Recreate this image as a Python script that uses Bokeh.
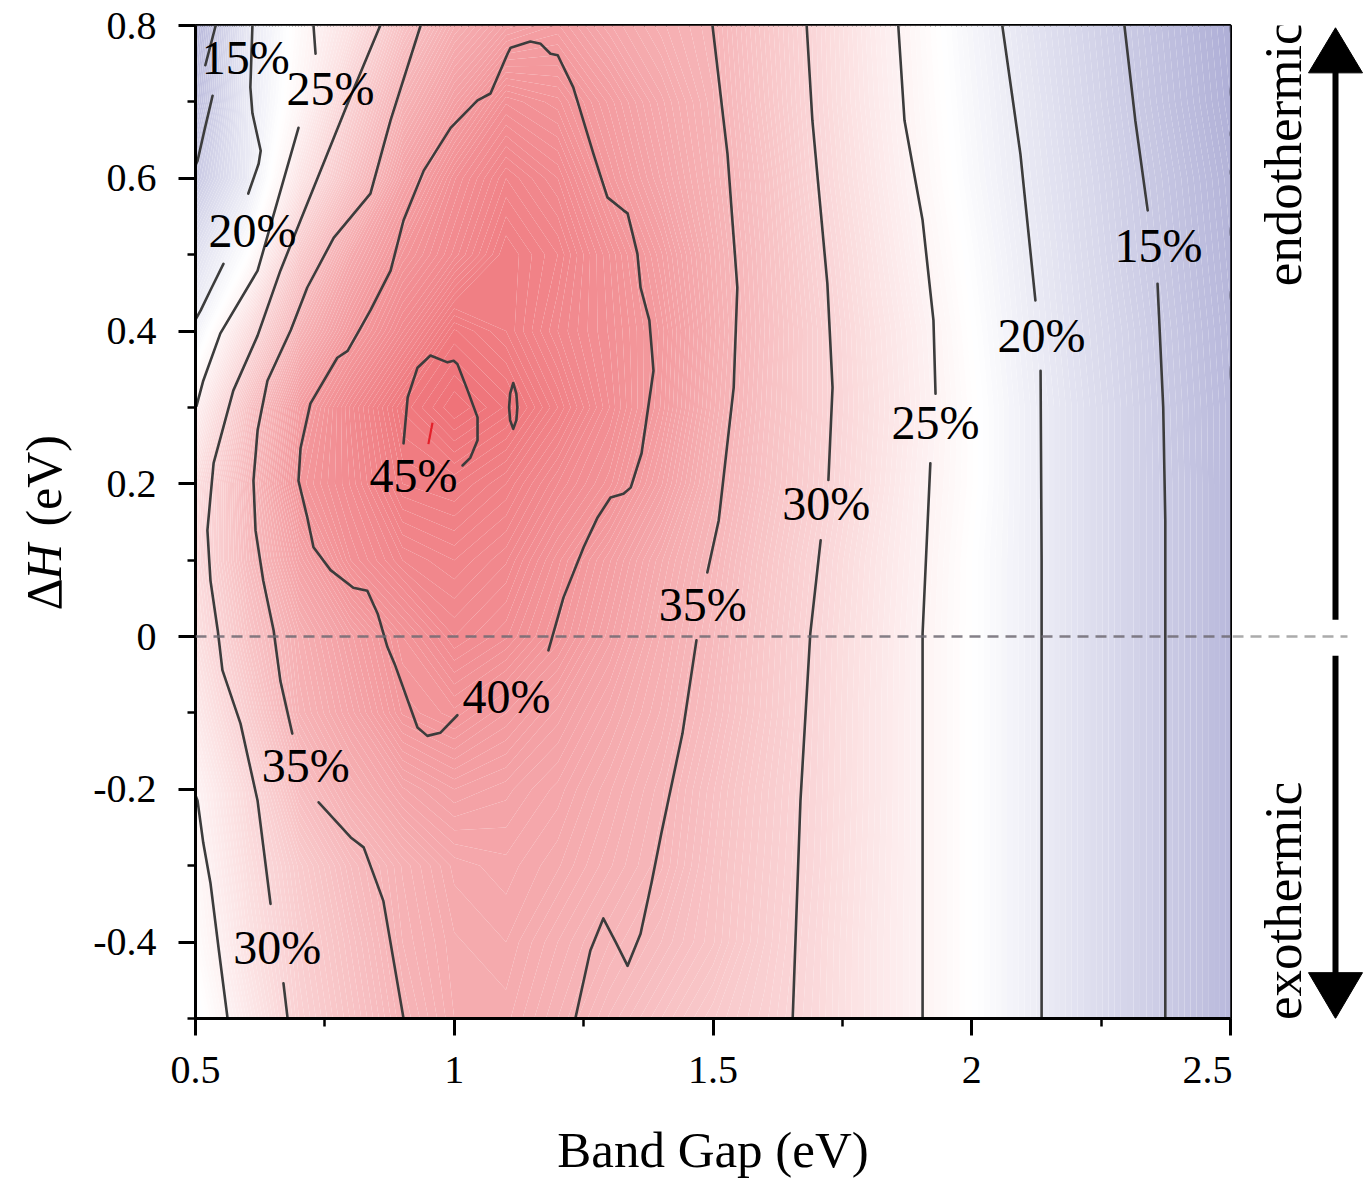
import numpy as np
from bokeh.plotting import figure
from bokeh.layouts import row, column
from bokeh.models import FixedTicker, Span, ColumnDataSource
from bokeh.core.properties import value
from bokeh.embed import file_html
from bokeh.resources import INLINE

# ---------------- data ----------------
BAND_GAP = [0.5, 0.6, 0.7, 0.8, 0.9, 1.0, 1.1, 1.2, 1.3, 1.4, 1.5,
            1.6, 1.7, 1.8, 1.9, 2.0, 2.1, 2.2, 2.3, 2.4, 2.5]
DELTA_H = [-0.5, -0.4, -0.3, -0.2, -0.1, 0.0, 0.1, 0.2, 0.3, 0.4, 0.5, 0.6, 0.7, 0.8]

# efficiency (%) on the grid, one row per DELTA_H value (bottom to top)
EFF_M05 = [22.3, 26.6, 30.5, 32.8, 35.0, 36.5, 36.6, 35.5, 34.2, 33.0, 31.8, 30.6, 29.1, 27.1, 25.1, 23.0, 20.8, 18.6, 16.5, 14.5, 12.3]
EFF_M04 = [23.5, 27.7, 31.0, 33.3, 35.5, 36.7, 37.0, 36.0, 35.0, 34.0, 32.8, 31.0, 29.2, 27.1, 25.1, 23.0, 20.8, 18.6, 16.5, 14.5, 12.3]
EFF_M03 = [24.2, 28.4, 31.6, 34.0, 35.8, 37.1, 37.4, 36.8, 35.8, 34.8, 33.0, 31.2, 29.4, 27.2, 25.1, 23.0, 20.8, 18.6, 16.5, 14.5, 12.3]
EFF_M02 = [24.9, 29.2, 33.6, 36.0, 37.7, 38.5, 38.1, 37.4, 36.3, 35.1, 33.3, 31.4, 29.5, 27.3, 25.1, 23.0, 20.8, 18.6, 16.5, 14.5, 12.3]
EFF_M01 = [26.5, 31.1, 35.5, 37.6, 39.8, 40.4, 39.5, 38.4, 37.1, 35.7, 33.9, 31.8, 29.6, 27.3, 25.1, 23.0, 20.8, 18.6, 16.5, 14.5, 12.3]
EFF_P00 = [28.0, 32.6, 36.1, 38.4, 40.5, 42.0, 41.3, 39.9, 38.1, 36.2, 34.3, 32.0, 29.7, 27.4, 25.1, 23.0, 20.8, 18.6, 16.5, 14.5, 12.3]
EFF_P01 = [28.8, 33.8, 38.0, 41.0, 42.5, 43.0, 42.3, 40.6, 38.8, 36.8, 34.8, 32.4, 30.0, 27.6, 25.3, 23.0, 20.8, 18.6, 16.5, 14.5, 12.3]
EFF_P02 = [28.2, 34.3, 40.0, 41.8, 44.0, 44.3, 43.5, 42.0, 40.6, 38.3, 35.5, 33.0, 30.6, 28.1, 25.5, 23.3, 20.8, 18.6, 16.5, 14.5, 12.3]
EFF_P03 = [25.3, 32.8, 38.9, 42.1, 44.8, 46.0, 45.2, 43.5, 41.5, 39.2, 36.1, 33.3, 30.8, 28.3, 25.8, 23.3, 20.8, 18.6, 16.5, 14.4, 12.3]
EFF_P04 = [21.0, 28.4, 35.4, 39.4, 42.2, 44.8, 44.0, 42.5, 41.2, 39.4, 36.4, 33.5, 30.8, 28.1, 25.6, 23.0, 20.5, 18.3, 16.3, 14.2, 12.1]
EFF_P05 = [18.3, 22.9, 31.6, 36.9, 40.3, 42.1, 44.0, 43.0, 41.0, 38.8, 36.1, 33.3, 30.4, 27.7, 25.0, 22.6, 20.2, 18.0, 15.9, 13.9, 11.8]
EFF_P06 = [15.0, 19.7, 27.2, 32.9, 38.0, 41.2, 43.0, 42.0, 39.7, 37.7, 35.6, 33.0, 29.9, 27.2, 24.5, 22.1, 19.8, 17.7, 15.6, 13.6, 11.5]
EFF_P07 = [13.0, 19.6, 24.5, 30.5, 35.5, 38.6, 41.2, 40.6, 38.9, 37.1, 35.3, 32.5, 29.6, 26.8, 24.2, 21.8, 19.5, 17.3, 15.2, 13.1, 11.0]
EFF_P08 = [12.0, 19.3, 23.8, 27.8, 32.8, 36.2, 38.1, 38.8, 37.3, 36.1, 35.0, 32.2, 29.5, 26.6, 24.0, 21.5, 19.1, 17.0, 14.9, 12.8, 10.7]
EFF_ROWS = [EFF_M05, EFF_M04, EFF_M03, EFF_M02, EFF_M01, EFF_P00, EFF_P01,
            EFF_P02, EFF_P03, EFF_P04, EFF_P05, EFF_P06, EFF_P07, EFF_P08]

# traced iso-efficiency lines (band gap, dH); broken where the labels sit
C15_LEFT = [([0.539, 0.519], [0.800, 0.748]),
            ([0.533, 0.518, 0.504, 0.500], [0.708, 0.665, 0.623, 0.617])]
C20_LEFT = [([0.610, 0.606, 0.610, 0.626, 0.622, 0.602], [0.800, 0.719, 0.685, 0.636, 0.619, 0.580]),
            ([0.554, 0.530, 0.510, 0.500], [0.488, 0.455, 0.427, 0.415])]
C25_LEFT = [([0.728, 0.732], [0.800, 0.763]),
            ([0.699, 0.620, 0.548, 0.515, 0.502], [0.666, 0.479, 0.397, 0.335, 0.302]),
            ([0.500, 0.504, 0.515, 0.529, 0.545, 0.562], [-0.208, -0.215, -0.270, -0.323, -0.410, -0.500])]
C30_LEFT = [([0.857, 0.794, 0.703, 0.664, 0.620, 0.573, 0.535, 0.523, 0.529, 0.543, 0.552, 0.587, 0.620, 0.645],
             [0.800, 0.698, 0.545, 0.479, 0.394, 0.322, 0.227, 0.139, 0.073, 0.008, -0.044, -0.114, -0.215, -0.350]),
            ([0.670, 0.678], [-0.454, -0.500])]
C35_LEFT = [([0.935, 0.877, 0.838, 0.767, 0.716, 0.684, 0.639, 0.620, 0.612, 0.616, 0.631, 0.651, 0.664, 0.687],
             [0.800, 0.676, 0.580, 0.522, 0.457, 0.401, 0.335, 0.270, 0.204, 0.139, 0.073, 0.008, -0.058, -0.127]),
            ([0.738, 0.800, 0.825, 0.863, 0.902], [-0.217, -0.263, -0.276, -0.346, -0.500])]
C40_LOOP = [([1.182, 1.211, 1.250, 1.277, 1.302, 1.327, 1.341, 1.362, 1.385, 1.377, 1.360, 1.354, 1.335, 1.327,
              1.296, 1.269, 1.230, 1.200, 1.186, 1.167, 1.147, 1.109, 1.103, 1.070, 1.045, 0.993, 0.941, 0.902,
              0.877, 0.838, 0.794, 0.774, 0.722, 0.703, 0.699, 0.716, 0.728, 0.761, 0.805, 0.832, 0.852, 0.871,
              0.886, 0.929, 0.948, 0.973, 1.006],
             [-0.018, 0.051, 0.117, 0.156, 0.182, 0.187, 0.195, 0.240, 0.348, 0.414, 0.457, 0.501, 0.554, 0.558,
              0.575, 0.632, 0.719, 0.761, 0.763, 0.776, 0.779, 0.771, 0.763, 0.711, 0.702, 0.666, 0.610, 0.545,
              0.479, 0.427, 0.374, 0.365, 0.305, 0.247, 0.204, 0.156, 0.117, 0.087, 0.064, 0.060, 0.030, -0.014,
              -0.038, -0.119, -0.130, -0.126, -0.103])]
C45_LOOP = [([0.902, 0.910, 0.929, 0.954, 0.987, 0.999, 1.006, 1.026, 1.045, 1.045, 1.031, 1.016],
             [0.253, 0.313, 0.352, 0.368, 0.359, 0.361, 0.357, 0.322, 0.287, 0.257, 0.234, 0.224]),
            ([1.114, 1.120, 1.122, 1.120, 1.114, 1.108, 1.106, 1.108, 1.114],
             [0.332, 0.318, 0.300, 0.283, 0.272, 0.283, 0.300, 0.318, 0.332])]
C35_RIGHT = [([1.499, 1.528, 1.547, 1.540, 1.511, 1.489], [0.800, 0.632, 0.457, 0.326, 0.152, 0.084]),
             ([1.468, 1.441, 1.400, 1.381, 1.360, 1.335, 1.312, 1.288, 1.263, 1.234],
              [-0.005, -0.127, -0.258, -0.323, -0.389, -0.431, -0.400, -0.369, -0.411, -0.500])]
C30_RIGHT = [([1.681, 1.692, 1.721, 1.731, 1.723], [0.800, 0.676, 0.462, 0.326, 0.205]),
             ([1.708, 1.688, 1.669, 1.654], [0.126, 0.004, -0.215, -0.500])]
C25_RIGHT = [([1.858, 1.870, 1.905, 1.926, 1.930], [0.800, 0.676, 0.545, 0.414, 0.318]),
             ([1.920, 1.905, 1.905], [0.227, 0.004, -0.500])]
C20_RIGHT = [([2.059, 2.094, 2.123], [0.800, 0.632, 0.440]),
             ([2.133, 2.135, 2.135], [0.348, 0.100, -0.500])]
C15_RIGHT = [([2.295, 2.316, 2.340], [0.800, 0.676, 0.558]),
             ([2.359, 2.370, 2.374, 2.374], [0.462, 0.300, 0.152, -0.500])]
PEAK_X = [0.950, 0.958]
PEAK_Y = [0.252, 0.280]

LABEL_TEXT = ["15%", "25%", "20%", "45%", "40%", "35%", "30%", "35%", "30%", "25%", "20%", "15%"]
LABEL_X = [0.597, 0.761, 0.610, 0.921, 1.101, 0.713, 0.658, 1.480, 1.719, 1.930, 2.135, 2.361]
LABEL_Y = [0.758, 0.718, 0.532, 0.211, -0.078, -0.169, -0.407, 0.042, 0.174, 0.280, 0.394, 0.512]

X_TICKS = [0.5, 1.0, 1.5, 2.0, 2.5]
X_TICK_LABELS = ["0.5", "1", "1.5", "2", "2.5"]
Y_TICKS = [-0.4, -0.2, 0.0, 0.2, 0.4, 0.6, 0.8]
Y_TICK_LABELS = ["-0.4", "-0.2", "0", "0.2", "0.4", "0.6", "0.8"]

X_TITLE = "Band Gap (eV)"
Y_TITLE_PARTS = ["\u0394", "H", "(eV)"]
SIDE_TEXT = ["endothermic", "exothermic"]

# ---------------- styling ----------------
FONT = "Liberation Serif"
STOPS = [(10.0, (170, 170, 212)), (23.0, (255, 255, 255)), (47.0, (238, 108, 114))]
TOP, FRAME_H, BOTTOM = 25, 993, 100
LEFT_W, MAIN_LEFT, FRAME_W, MAIN_RIGHT, RIGHT_W = 80, 115, 1035, 2, 139
TITLE_H = 1178 - (TOP + FRAME_H + BOTTOM)
PANEL_H = TOP + FRAME_H + BOTTOM


def eff_color(v):
    c = STOPS[0][1] if v <= STOPS[0][0] else STOPS[-1][1]
    for (v0, c0), (v1, c1) in zip(STOPS[:-1], STOPS[1:]):
        if v0 <= v <= v1:
            t = (v - v0) / (v1 - v0)
            c = tuple(c0[i] + t * (c1[i] - c0[i]) for i in range(3))
            break
    return "#%02x%02x%02x" % tuple(int(round(ch)) for ch in c)


def blank(width, height, xr, yr, top=0, bottom=0):
    f = figure(width=width, height=height, x_range=xr, y_range=yr, x_axis_type=None, y_axis_type=None,
               output_backend="svg", toolbar_location=None, min_border_left=0, min_border_right=0,
               min_border_top=top, min_border_bottom=bottom)
    f.outline_line_color = None
    f.background_fill_color = "white"
    f.border_fill_color = "white"
    return f


# ---------------- main panel ----------------
p = figure(width=MAIN_LEFT + FRAME_W + MAIN_RIGHT, height=PANEL_H, x_range=(0.5, 2.5), y_range=(-0.5, 0.8),
           output_backend="svg", toolbar_location=None,
           min_border_left=MAIN_LEFT, min_border_right=MAIN_RIGHT, min_border_top=TOP, min_border_bottom=BOTTOM)
p.background_fill_color = "white"
p.border_fill_color = "white"
p.xgrid.visible = False
p.ygrid.visible = False
p.outline_line_color = "black"
p.outline_line_width = 3

levels = [10.0 + 0.25 * i for i in range(149)]
band_colors = [eff_color(0.5 * (a + b)) for a, b in zip(levels[:-1], levels[1:])]
cr = p.contour(BAND_GAP, DELTA_H, np.array(EFF_ROWS), levels, fill_color=band_colors, line_color=None)
fg = cr.fill_renderer.glyph
fg.line_color = fg.fill_color
fg.line_width = 1.2

xs, ys = [], []
for group in [C15_LEFT, C20_LEFT, C25_LEFT, C30_LEFT, C35_LEFT, C40_LOOP, C45_LOOP,
              C35_RIGHT, C30_RIGHT, C25_RIGHT, C20_RIGHT, C15_RIGHT]:
    for sx, sy in group:
        xs.append(sx)
        ys.append(sy)
p.multi_line(xs, ys, line_color="#3c3c3c", line_width=2.6, line_join="round", line_cap="round")
p.line(PEAK_X, PEAK_Y, line_color="#e3202a", line_width=2.2)

p.add_layout(Span(location=0, dimension="width", line_color="#6f6a72", line_alpha=0.85,
                  line_dash="11 7", line_width=2.5))

src = ColumnDataSource(dict(x=LABEL_X, y=LABEL_Y, t=LABEL_TEXT))
p.text(x="x", y="y", text="t", source=src, text_font=value(FONT), text_font_size="48px",
       text_align="center", text_baseline="middle", text_color="black")

p.xaxis.ticker = FixedTicker(ticks=X_TICKS, minor_ticks=[0.75, 1.25, 1.75, 2.25])
p.xaxis.major_label_overrides = {t: s for t, s in zip(X_TICKS, X_TICK_LABELS)}
p.yaxis.ticker = FixedTicker(ticks=Y_TICKS, minor_ticks=[-0.5, -0.3, -0.1, 0.1, 0.3, 0.5, 0.7])
p.yaxis.major_label_overrides = {t: s for t, s in zip(Y_TICKS, Y_TICK_LABELS)}
for ax in (p.xaxis, p.yaxis):
    ax.axis_line_width = 3
    ax.axis_line_color = "black"
    ax.major_tick_line_width = 3
    ax.minor_tick_line_width = 2.5
    ax.major_tick_out = 17
    ax.major_tick_in = 0
    ax.minor_tick_out = 8
    ax.minor_tick_in = 0
    ax.major_label_text_font = FONT
    ax.major_label_text_font_size = "40px"
    ax.major_label_text_color = "black"
p.xaxis.major_label_standoff = 21
p.yaxis.major_label_standoff = 22

# ---------------- left panel: y title with italic H ----------------
left = blank(LEFT_W, PANEL_H, (0, LEFT_W), (-0.5, 0.8), TOP, BOTTOM)
for txt, yy, style in zip(Y_TITLE_PARTS, [0.034, 0.074, 0.144], ["normal", "italic", "normal"]):
    left.text(x=[43], y=[yy], text=[txt], angle=np.pi / 2, text_font=value(FONT), text_font_size="50px",
              text_font_style=style, text_align="left", text_baseline="middle", text_color="black")

# ---------------- right panel: endothermic / exothermic arrow ----------------
right = blank(RIGHT_W, PANEL_H, (0, RIGHT_W), (-0.5, 0.8), TOP, BOTTOM)
right.segment(x0=[0], y0=[0], x1=[115], y1=[0], line_color="#ababab", line_dash="11 7", line_width=2.5)
right.segment(x0=[103, 103], y0=[0.022, -0.025], x1=[103, 103], y1=[0.745, -0.445],
              line_color="black", line_width=6)
right.patches(xs=[[76, 103, 130], [76, 103, 130]], ys=[[0.738, 0.797, 0.738], [-0.44, -0.5, -0.44]],
              fill_color="black", line_color="black", line_width=1)
right.text(x=[50, 50], y=[0.632, -0.346], text=SIDE_TEXT, angle=np.pi / 2, text_font=value(FONT),
           text_font_size="53px", text_align="center", text_baseline="middle", text_color="black")

# ---------------- bottom panel: x title ----------------
bottom = blank(1371, TITLE_H, (0, 1371), (0, TITLE_H))
bottom.text(x=[LEFT_W + MAIN_LEFT + FRAME_W / 2], y=[TITLE_H - 31], text=[X_TITLE], text_font=value(FONT),
            text_font_size="51px", text_align="center", text_baseline="middle", text_color="black")

layout = column(row(left, p, right, spacing=0), bottom, spacing=0)
open("out.html", "w").write(file_html(layout, INLINE))
